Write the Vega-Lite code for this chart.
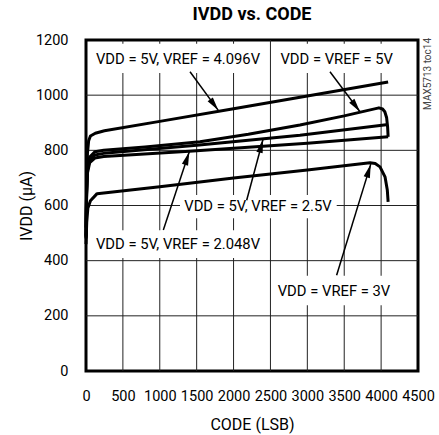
{
  "$schema": "https://vega.github.io/schema/vega-lite/v6.json",
  "autosize": {"type": "none"},
  "width": 332,
  "height": 331,
  "padding": {"left": 86, "top": 40, "right": 21, "bottom": 64},
  "background": "white",
  "title": {"text": "IVDD vs. CODE", "font": "Roboto", "fontSize": 18, "fontWeight": "bold", "color": "black", "offset": 8, "anchor": "middle"},
  "config": {
    "view": {"stroke": "black", "strokeWidth": 3},
    "axis": {
      "labelFont": "Roboto", "titleFont": "Roboto",
      "labelFontSize": 14.5, "titleFontSize": 16, "titleFontWeight": "normal",
      "labelColor": "black", "titleColor": "black",
      "domain": false, "tickSize": 0, "labelOverlap": false, "labelFlush": false
    }
  },
  "datasets": {
    "gridx": [
      {"code": 500, "current": 0, "current2": 1200},
      {"code": 1000, "current": 0, "current2": 1200},
      {"code": 1500, "current": 0, "current2": 1200},
      {"code": 2000, "current": 0, "current2": 1200},
      {"code": 2500, "current": 0, "current2": 1200},
      {"code": 3000, "current": 0, "current2": 1200},
      {"code": 3500, "current": 0, "current2": 1200},
      {"code": 4000, "current": 0, "current2": 1200}
    ],
    "gridy": [
      {"current": 200, "code": 0, "code2": 4500},
      {"current": 400, "code": 0, "code2": 4500},
      {"current": 600, "code": 0, "code2": 4500},
      {"current": 800, "code": 0, "code2": 4500},
      {"current": 1000, "code": 0, "code2": 4500}
    ],
    "curves": [
      {"series": "4.096", "code": 0, "current": 520},
      {"series": "4.096", "code": 10, "current": 700},
      {"series": "4.096", "code": 20, "current": 790},
      {"series": "4.096", "code": 36, "current": 835},
      {"series": "4.096", "code": 60, "current": 852},
      {"series": "4.096", "code": 126, "current": 862},
      {"series": "4.096", "code": 250, "current": 871},
      {"series": "4.096", "code": 1000, "current": 905},
      {"series": "4.096", "code": 2000, "current": 951},
      {"series": "4.096", "code": 3000, "current": 997},
      {"series": "4.096", "code": 4095, "current": 1048},
      {"series": "5", "code": 0, "current": 490},
      {"series": "5", "code": 8, "current": 650},
      {"series": "5", "code": 20, "current": 740},
      {"series": "5", "code": 50, "current": 776},
      {"series": "5", "code": 120, "current": 795},
      {"series": "5", "code": 240, "current": 800},
      {"series": "5", "code": 800, "current": 812},
      {"series": "5", "code": 1545, "current": 831},
      {"series": "5", "code": 2200, "current": 858},
      {"series": "5", "code": 2900, "current": 892},
      {"series": "5", "code": 3500, "current": 925},
      {"series": "5", "code": 3970, "current": 954},
      {"series": "5", "code": 4020, "current": 950},
      {"series": "5", "code": 4050, "current": 940},
      {"series": "5", "code": 4075, "current": 918},
      {"series": "5", "code": 4088, "current": 885},
      {"series": "5", "code": 4095, "current": 849},
      {"series": "2.5", "code": 0, "current": 485},
      {"series": "2.5", "code": 8, "current": 640},
      {"series": "2.5", "code": 20, "current": 728},
      {"series": "2.5", "code": 50, "current": 765},
      {"series": "2.5", "code": 120, "current": 783},
      {"series": "2.5", "code": 240, "current": 789},
      {"series": "2.5", "code": 1500, "current": 818},
      {"series": "2.5", "code": 2900, "current": 855},
      {"series": "2.5", "code": 4095, "current": 894},
      {"series": "2.048", "code": 0, "current": 480},
      {"series": "2.048", "code": 8, "current": 630},
      {"series": "2.048", "code": 20, "current": 718},
      {"series": "2.048", "code": 50, "current": 755},
      {"series": "2.048", "code": 120, "current": 772},
      {"series": "2.048", "code": 240, "current": 778},
      {"series": "2.048", "code": 1400, "current": 797},
      {"series": "2.048", "code": 3000, "current": 826},
      {"series": "2.048", "code": 4095, "current": 849},
      {"series": "3", "code": 0, "current": 460},
      {"series": "3", "code": 10, "current": 540},
      {"series": "3", "code": 25, "current": 590},
      {"series": "3", "code": 60, "current": 617},
      {"series": "3", "code": 150, "current": 643},
      {"series": "3", "code": 1000, "current": 668},
      {"series": "3", "code": 2000, "current": 700},
      {"series": "3", "code": 3000, "current": 729},
      {"series": "3", "code": 3849, "current": 755},
      {"series": "3", "code": 3920, "current": 752},
      {"series": "3", "code": 3985, "current": 740},
      {"series": "3", "code": 4053, "current": 704},
      {"series": "3", "code": 4084, "current": 656},
      {"series": "3", "code": 4095, "current": 613}
    ],
    "boxes": [
      {"code": 81, "code2": 2426, "current": 1080, "current2": 1186},
      {"code": 2589, "code2": 4201, "current": 1080, "current2": 1186},
      {"code": 1274, "code2": 3398, "current": 554, "current2": 638},
      {"code": 95, "code2": 2413, "current": 410, "current2": 510},
      {"code": 2589, "code2": 4147, "current": 238, "current2": 345}
    ],
    "arrows": [
      {"id": "a1", "code": 1410, "current": 1085, "code2": 1793, "current2": 945},
      {"id": "a2", "code": 3307, "current": 1085, "code2": 3714, "current2": 940},
      {"id": "a3", "code": 1048, "current": 511, "code2": 1400, "current2": 795},
      {"id": "a4", "code": 2178, "current": 619, "code2": 2400, "current2": 840},
      {"id": "a5", "code": 3397, "current": 347, "code2": 3860, "current2": 750}
    ],
    "tips": [
      {"id": "a1", "code": 1793, "current": 945},
      {"id": "a2", "code": 3714, "current": 940},
      {"id": "a3", "code": 1400, "current": 795},
      {"id": "a4", "code": 2400, "current": 840},
      {"id": "a5", "code": 3860, "current": 750}
    ],
    "labels": [
      {"text": "VDD = 5V, VREF = 4.096V", "code": 1247, "current": 1128},
      {"text": "VDD = VREF = 5V", "code": 3398, "current": 1128},
      {"text": "VDD = 5V, VREF = 2.5V", "code": 2331, "current": 595},
      {"text": "VDD = 5V, VREF = 2.048V", "code": 1247, "current": 456},
      {"text": "VDD = VREF = 3V", "code": 3361, "current": 287}
    ],
    "tag": [
      {"text": "MAX5713 toc14", "code": 4630, "current": 1077}
    ]
  },
  "encoding": {
    "x": {"field": "code", "type": "quantitative", "scale": {"domain": [0, 4500], "nice": false, "zero": false}, "axis": {"values": [0, 500, 1000, 1500, 2000, 2500, 3000, 3500, 4000, 4500], "format": "d", "grid": false, "title": "CODE (LSB)", "labelPadding": 18, "titlePadding": 14}},
    "y": {"field": "current", "type": "quantitative", "scale": {"domain": [0, 1200], "nice": false, "zero": false}, "axis": {"values": [0, 200, 400, 600, 800, 1000, 1200], "format": "d", "grid": false, "title": "IVDD (µA)", "labelPadding": 18, "titlePadding": 1}}
  },
  "layer": [
    {
      "data": {"name": "gridx"},
      "mark": {"type": "rule", "color": "#222", "strokeWidth": 1},
      "encoding": {"y2": {"field": "current2"}}
    },
    {
      "data": {"name": "gridy"},
      "mark": {"type": "rule", "color": "#222", "strokeWidth": 1},
      "encoding": {"x2": {"field": "code2"}}
    },
    {
      "data": {"name": "boxes"},
      "mark": {"type": "rect", "fill": "white", "stroke": null},
      "encoding": {"x2": {"field": "code2"}, "y2": {"field": "current2"}}
    },
    {
      "data": {"name": "curves"},
      "mark": {"type": "line", "color": "black", "strokeWidth": 3, "strokeJoin": "round"},
      "encoding": {"detail": {"field": "series"}}
    },
    {
      "data": {"name": "arrows"},
      "mark": {"type": "rule", "color": "black", "strokeWidth": 1.5},
      "encoding": {"x2": {"field": "code2"}, "y2": {"field": "current2"}}
    },
    {
      "data": {"name": "tips"},
      "transform": [{"filter": "datum.id == 'a1'"}],
      "mark": {"type": "point", "shape": "M0,0L0.5,2.1L-0.5,2.1Z", "filled": true, "color": "black", "opacity": 1, "size": 169, "angle": 143.8}
    },
    {
      "data": {"name": "tips"},
      "transform": [{"filter": "datum.id == 'a2'"}],
      "mark": {"type": "point", "shape": "M0,0L0.5,2.1L-0.5,2.1Z", "filled": true, "color": "black", "opacity": 1, "size": 169, "angle": 143.1}
    },
    {
      "data": {"name": "tips"},
      "transform": [{"filter": "datum.id == 'a3'"}],
      "mark": {"type": "point", "shape": "M0,0L0.5,2.1L-0.5,2.1Z", "filled": true, "color": "black", "opacity": 1, "size": 169, "angle": 18.4}
    },
    {
      "data": {"name": "tips"},
      "transform": [{"filter": "datum.id == 'a4'"}],
      "mark": {"type": "point", "shape": "M0,0L0.5,2.1L-0.5,2.1Z", "filled": true, "color": "black", "opacity": 1, "size": 169, "angle": 15.1}
    },
    {
      "data": {"name": "tips"},
      "transform": [{"filter": "datum.id == 'a5'"}],
      "mark": {"type": "point", "shape": "M0,0L0.5,2.1L-0.5,2.1Z", "filled": true, "color": "black", "opacity": 1, "size": 169, "angle": 17.1}
    },
    {
      "data": {"name": "labels"},
      "mark": {"type": "text", "font": "Roboto", "fontSize": 14.8, "color": "black", "align": "center", "baseline": "middle"},
      "encoding": {"text": {"field": "text"}}
    },
    {
      "data": {"name": "tag"},
      "mark": {"type": "text", "font": "Roboto", "fontSize": 10, "color": "#444", "align": "center", "baseline": "middle", "angle": 270},
      "encoding": {"text": {"field": "text"}}
    }
  ]
}
